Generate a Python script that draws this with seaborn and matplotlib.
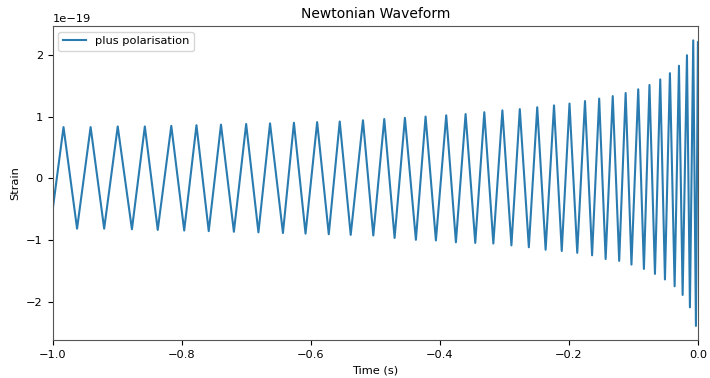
import numpy as np
import pandas as pd
import matplotlib
matplotlib.use("Agg")
import matplotlib.pyplot as plt
import seaborn as sns

# Extrema of the plus polarisation (time in s, strain in 1e-19)
time_s = [
    -1.000, -0.983, -0.962, -0.941, -0.920, -0.899, -0.877, -0.857, -0.837,
    -0.816, -0.796, -0.777, -0.758, -0.739, -0.719, -0.700, -0.681, -0.663,
    -0.643, -0.626, -0.608, -0.590, -0.572, -0.555, -0.538, -0.519, -0.503,
    -0.486, -0.470, -0.454, -0.437, -0.422, -0.406, -0.390, -0.375, -0.360,
    -0.345, -0.331, -0.317, -0.303, -0.289, -0.276, -0.262, -0.249, -0.236,
    -0.223, -0.211, -0.199, -0.187, -0.175, -0.164, -0.153, -0.143, -0.132,
    -0.122, -0.112, -0.103, -0.0925, -0.0837, -0.0751, -0.0666, -0.0584,
    -0.0511, -0.0434, -0.0361, -0.0294, -0.0237, -0.0170, -0.0124, -0.0073,
    -0.0031, 0.0,
]
strain_e19 = [
    -0.52, 0.83, -0.81, 0.83, -0.81, 0.84, -0.82, 0.84, -0.83,
    0.85, -0.84, 0.86, -0.85, 0.87, -0.86, 0.88, -0.87, 0.89,
    -0.88, 0.90, -0.89, 0.91, -0.90, 0.92, -0.91, 0.94, -0.92,
    0.96, -0.96, 0.98, -0.99, 1.00, -1.00, 1.02, -1.03, 1.04,
    -1.04, 1.07, -1.05, 1.10, -1.08, 1.12, -1.11, 1.15, -1.15,
    1.18, -1.17, 1.21, -1.20, 1.25, -1.24, 1.29, -1.30, 1.33,
    -1.33, 1.38, -1.39, 1.44, -1.46, 1.51, -1.54, 1.60,
    -1.63, 1.70, -1.74, 1.82, -1.88, 1.99, -2.08, 2.23,
    -2.38, 2.20,
]

df = pd.DataFrame({"Time (s)": time_s, "Strain": np.array(strain_e19) * 1e-19})

plt.rcParams["font.size"] = 8.2
fig, ax = plt.subplots(figsize=(7.1, 3.78), dpi=100)
fig.subplots_adjust(left=0.074, right=0.983, top=0.931, bottom=0.1)

sns.lineplot(data=df, x="Time (s)", y="Strain", color="#2a7bb0",
             linewidth=1.5, label="plus polarisation", ax=ax, sort=False)
ax.set_xlim(-1.0, 0.0)
ax.set_title("Newtonian Waveform", fontsize=10)
ax.legend(loc="upper left")
for s in ax.spines.values():
    s.set_edgecolor("#555555")

fig.savefig("out.png")
